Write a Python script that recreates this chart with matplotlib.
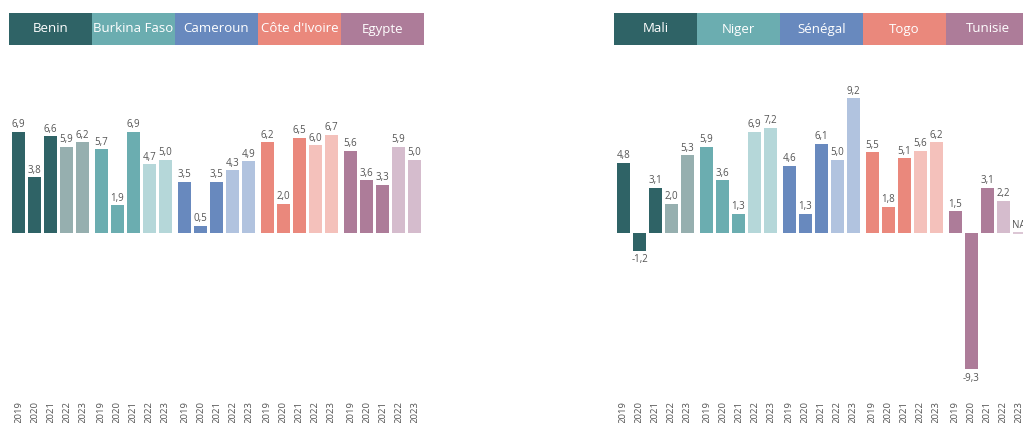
import matplotlib
matplotlib.use("Agg")
import matplotlib.pyplot as plt
import matplotlib.transforms as mtrans
import numpy as np

plt.rcParams['font.family'] = ['Open Sans', 'DejaVu Sans']

years = ["2019", "2020", "2021", "2022", "2023"]

# left panel
countries_left = ["Benin", "Burkina Faso", "Cameroun", "Côte d'Ivoire", "Egypte"]
benin = [6.9, 3.8, 6.6, 5.9, 6.2]
burkina = [5.7, 1.9, 6.9, 4.7, 5.0]
cameroun = [3.5, 0.5, 3.5, 4.3, 4.9]
cote_ivoire = [6.2, 2.0, 6.5, 6.0, 6.7]
egypte = [5.6, 3.6, 3.3, 5.9, 5.0]

# right panel
countries_right = ["Mali", "Niger", "Sénégal", "Togo", "Tunisie"]
mali = [4.8, -1.2, 3.1, 2.0, 5.3]
niger = [5.9, 3.6, 1.3, 6.9, 7.2]
senegal = [4.6, 1.3, 6.1, 5.0, 9.2]
togo = [5.5, 1.8, 5.1, 5.6, 6.2]
tunisie = [1.5, -9.3, 3.1, 2.2, None]  # 2023 = NA

# dark colour (2019-2021) and light colour (2022-2023 projections)
DARK = ["#2F6366", "#6BADB0", "#6889BE", "#EA887C", "#AD7C99"]
LIGHT = ["#96AFAF", "#B5D7D9", "#B1C3DF", "#F4C1BB", "#D5BCCD"]

W, H = 1023, 423
PITCH = 16.0          # px per bar
GROUP = 5.1875        # bar units per country group
BASE_Y = 233          # baseline, px from top
SCALE = 14.65         # px per unit


def make_panel(fig, first_center_px, countries, series, xlim):
    lo, hi = xlim
    left_px = first_center_px + PITCH * lo
    right_px = first_center_px + PITCH * hi
    top_px, bot_px = 50, 397
    ax = fig.add_axes([left_px / W, 1 - bot_px / H,
                       (right_px - left_px) / W, (bot_px - top_px) / H])
    ax.set_xlim(lo, hi)
    ax.set_ylim(-(bot_px - BASE_Y) / SCALE, (BASE_Y - top_px) / SCALE)

    xs_all, labels_all = [], []
    for g, (name, vals) in enumerate(zip(countries, series)):
        for i, v in enumerate(vals):
            x = g * GROUP + i
            xs_all.append(x)
            labels_all.append(years[i])
            col = DARK[g] if i < 3 else LIGHT[g]
            if v is None:
                ax.bar(x, 0, width=0.8, color=col, edgecolor=col, linewidth=1.2)
                ax.text(x - 0.45, 0.15, "NA", ha="left", va="bottom",
                        fontsize=7, color="#555555")
                continue
            ax.bar(x, v, width=0.8, color=col, linewidth=0)
            lab = f"{v:.1f}".replace(".", ",")
            if v >= 0:
                ax.text(x, v + 0.1, lab, ha="center", va="bottom",
                        fontsize=7, color="#555555")
            else:
                ax.text(x, v - 0.25, lab, ha="center", va="top",
                        fontsize=7, color="#555555")

        # header box
        tr = mtrans.blended_transform_factory(ax.transData, fig.transFigure)
        cx = g * GROUP + 2
        rect = plt.Rectangle((cx - GROUP / 2, 1 - 45 / H), GROUP, 32 / H,
                             transform=tr, color=DARK[g], clip_on=False,
                             linewidth=0)
        ax.add_artist(rect)
        ax.text(cx, 1 - 29 / H, name, transform=tr, ha="center", va="center",
                color="white", fontsize=9.5, clip_on=False)

    ax.set_xticks(xs_all)
    ax.set_xticklabels(labels_all, rotation=90, fontsize=6.8, color="#555555")
    ax.tick_params(axis="x", length=0, pad=3)
    ax.set_yticks([])
    for s in ax.spines.values():
        s.set_visible(False)
    return ax


fig = plt.figure(figsize=(W / 100, H / 100), dpi=100)
make_panel(fig, 18.5, countries_left,
           [benin, burkina, cameroun, cote_ivoire, egypte], (-0.9, 25.6))
make_panel(fig, 623.5, countries_right,
           [mali, niger, senegal, togo, tunisie], (-0.9, 25.6))

fig.savefig("out.png", dpi=100)
